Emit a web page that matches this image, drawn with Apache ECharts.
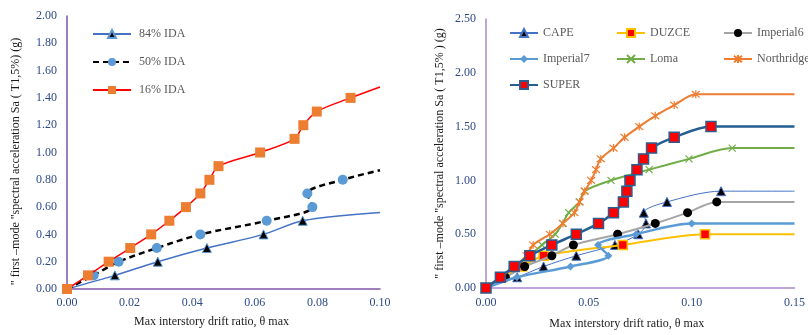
<!DOCTYPE html>
<html>
<head>
<meta charset="utf-8">
<script src="https://cdn.jsdelivr.net/npm/echarts@6/dist/echarts.min.js"></script>
<style>
  html, body { margin: 0; padding: 0; background: #ffffff; }
  #chart { width: 808px; height: 335px; }
</style>
</head>
<body>
<div id="chart"></div>
<script>
// ---- Left panel: IDA fractile curves (drift ratio vs Sa) ----
const idaNames = ['84% IDA', '50% IDA', '16% IDA'];
const ida84Drift = [0, 0.0153, 0.0290, 0.0447, 0.0628, 0.0753, 0.100];
const ida84Sa    = [0, 0.10, 0.20, 0.30, 0.40, 0.50, 0.56];
const ida50Drift = [0, 0.0085, 0.0165, 0.0287, 0.0426, 0.0638, 0.0784, 0.0768, 0.0881, 0.100];
const ida50Sa    = [0, 0.10, 0.20, 0.30, 0.40, 0.50, 0.60, 0.70, 0.80, 0.87];
const ida16Drift = [0, 0.0067, 0.0133, 0.0202, 0.0269, 0.0327, 0.0380, 0.0426, 0.0455, 0.0484,
                    0.0617, 0.0727, 0.0755, 0.0798, 0.0906, 0.100];
const ida16Sa    = [0, 0.10, 0.20, 0.30, 0.40, 0.50, 0.60, 0.70, 0.80, 0.90,
                    1.00, 1.10, 1.20, 1.30, 1.40, 1.48];

// ---- Right panel: individual record IDA curves ----
const recordNames = ['CAPE', 'DUZCE', 'Imperial6', 'Imperial7', 'Loma', 'Northridge', 'SUPER'];
const capeDrift = [0, 0.0152, 0.0280, 0.0439, 0.0627, 0.0740, 0.0778, 0.0767, 0.0880, 0.1143, 0.150];
const capeSa    = [0, 0.10, 0.20, 0.30, 0.40, 0.50, 0.60, 0.70, 0.80, 0.90, 0.90];
const duzceDrift = [0, 0.0070, 0.0175, 0.0280, 0.0665, 0.1065, 0.150];
const duzceSa    = [0, 0.10, 0.20, 0.30, 0.40, 0.50, 0.50];
const imp6Drift = [0, 0.0094, 0.0188, 0.0320, 0.0425, 0.0640, 0.0823, 0.0980, 0.1122, 0.150];
const imp6Sa    = [0, 0.10, 0.20, 0.30, 0.40, 0.50, 0.60, 0.70, 0.80, 0.80];
const imp7Drift = [0, 0.0150, 0.0411, 0.0595, 0.0545, 0.0730, 0.1000, 0.150];
const imp7Sa    = [0, 0.10, 0.20, 0.30, 0.40, 0.50, 0.60, 0.60];
const lomaDrift = [0, 0.0070, 0.0140, 0.0210, 0.0272, 0.0336, 0.0372, 0.0402, 0.0455, 0.0479,
                   0.0608, 0.0793, 0.0987, 0.1197, 0.150];
const lomaSa    = [0, 0.10, 0.20, 0.30, 0.40, 0.50, 0.60, 0.70, 0.80, 0.90,
                   1.00, 1.10, 1.20, 1.30, 1.30];
const northDrift = [0, 0.0070, 0.0140, 0.0197, 0.0229, 0.0310, 0.0374, 0.0430, 0.0455, 0.0480,
                    0.0511, 0.0535, 0.0558, 0.0620, 0.0674, 0.0745, 0.0823, 0.0915, 0.1020, 0.150];
const northSa    = [0, 0.10, 0.20, 0.30, 0.40, 0.50, 0.60, 0.70, 0.80, 0.90,
                    1.00, 1.10, 1.20, 1.30, 1.40, 1.50, 1.60, 1.70, 1.80, 1.80];
const superDrift = [0, 0.0070, 0.0137, 0.0213, 0.0320, 0.0439, 0.0547, 0.0620, 0.0668, 0.0685,
                    0.0700, 0.0734, 0.0766, 0.0805, 0.0915, 0.1094, 0.150];
const superSa    = [0, 0.10, 0.20, 0.30, 0.40, 0.50, 0.60, 0.70, 0.80, 0.90,
                    1.00, 1.10, 1.20, 1.30, 1.40, 1.50, 1.50];

// Axis ranges and tick steps
const leftX = { min: 0, max: 0.10, step: 0.02 };
const leftY = { min: 0, max: 2.00, step: 0.20 };
const rightX = { min: 0, max: 0.15, step: 0.05 };
const rightY = { min: 0, max: 2.50, step: 0.50 };

const xTitle = 'Max interstory drift ratio, \u03b8 max';
const yTitleLeft = '" first \u2013mode "spectral acceleration Sa ( T1,5%) (g)';
const yTitleRight = '" first \u2013mode "spectral acceleration Sa ( T1,5% ) (g)';

const FONT = 'Liberation Serif';
const TICK_COLOR = '#2E4A86';

// The trailing point of each curve only carries the line, no marker
function pairs(xs, ys) {
  return xs.map((x, i) => i === xs.length - 1
    ? { value: [x, ys[i]], symbol: 'none' }
    : [x, ys[i]]);
}

function axis(range, gridIndex, axisColor, margin, extra) {
  return Object.assign({
    type: 'value',
    gridIndex: gridIndex,
    min: range.min,
    max: range.max,
    interval: range.step,
    axisLine: { show: true, onZero: false, lineStyle: { color: axisColor, width: 1.5 } },
    axisTick: { show: false },
    splitLine: { show: false },
    axisLabel: {
      fontFamily: FONT, fontSize: 12, color: TICK_COLOR, margin: margin,
      formatter: v => v.toFixed(2)
    },
    nameTextStyle: { fontFamily: FONT, fontSize: 12, color: '#1a1a1a' }
  }, extra || {});
}

const crossPath = 'path://M0,0L10,10M10,0L0,10';
const starPath = 'path://M0,0L10,10M10,0L0,10M5,-1L5,11';

function line(name, xs, ys, grid, lineStyle, symbol, size, itemStyle, z) {
  return {
    name: name, type: 'line',
    xAxisIndex: grid, yAxisIndex: grid,
    data: pairs(xs, ys),
    smooth: 0.3,
    symbol: symbol, symbolSize: size,
    showAllSymbol: true,
    lineStyle: lineStyle,
    itemStyle: itemStyle,
    emphasis: { disabled: true },
    animation: false,
    z: z
  };
}

const LEFT_AXIS = '#7D55A8';
const RIGHT_AXIS = '#A887CE';

const option = {
  backgroundColor: '#ffffff',
  animation: false,
  grid: [
    { left: 67, top: 16, width: 313, height: 273 },
    { left: 486, top: 19, width: 310, height: 273 }
  ],
  xAxis: [
    axis(leftX, 0, LEFT_AXIS, 8, {
      name: xTitle, nameLocation: 'middle', nameGap: 27,
      nameTextStyle: { fontFamily: FONT, fontSize: 12, color: '#1a1a1a', padding: [0, 24, 0, 0] }
    }),
    axis(rightX, 1, RIGHT_AXIS, 9, {
      name: xTitle, nameLocation: 'middle', nameGap: 30,
      nameTextStyle: { fontFamily: FONT, fontSize: 12, color: '#1a1a1a', padding: [0, 27, 0, 0] }
    })
  ],
  yAxis: [
    axis(leftY, 0, LEFT_AXIS, 10, {
      name: yTitleLeft, nameLocation: 'middle', nameGap: 45, nameRotate: 90,
      nameTextStyle: { fontFamily: FONT, fontSize: 12, color: '#1a1a1a', padding: [0, 18, 0, 0] }
    }),
    axis(rightY, 1, RIGHT_AXIS, 10, {
      name: yTitleRight, nameLocation: 'middle', nameGap: 40, nameRotate: 90,
      nameTextStyle: { fontFamily: FONT, fontSize: 12, color: '#1a1a1a' }
    })
  ],
  legend: [
    {
      data: idaNames,
      orient: 'vertical',
      left: 92, top: 27, padding: 0,
      itemWidth: 38, itemHeight: 10, itemGap: 14,
      textStyle: { fontFamily: FONT, fontSize: 12, color: '#595959', lineHeight: 14, padding: [0, 0, 0, 3] },
      selectedMode: false
    },
    {
      data: recordNames,
      orient: 'horizontal',
      left: 509, top: 25, width: 330, padding: 0,
      itemWidth: 28, itemHeight: 10, itemGap: 10,
      textStyle: { fontFamily: FONT, fontSize: 12, color: '#595959', width: 63, lineHeight: 16 },
      selectedMode: false
    }
  ],
  series: [
    line('84% IDA', ida84Drift, ida84Sa, 0,
      { color: '#4472C4', width: 1.5 }, 'triangle', 9,
      { color: '#000000', borderColor: '#5B9BD5', borderWidth: 1 }, 2),
    line('50% IDA', ida50Drift, ida50Sa, 0,
      { color: '#000000', width: 2.5, type: [6, 4] }, 'circle', 10,
      { color: '#5B9BD5' }, 3),
    line('16% IDA', ida16Drift, ida16Sa, 0,
      { color: '#FF0000', width: 1.5 }, 'rect', 10,
      { color: '#ED7D31' }, 4),

    line('CAPE', capeDrift, capeSa, 1,
      { color: '#4472C4', width: 1 }, 'triangle', 9,
      { color: '#000000', borderColor: '#4472C4', borderWidth: 1 }, 2),
    line('DUZCE', duzceDrift, duzceSa, 1,
      { color: '#FFC000', width: 2 }, 'rect', 9,
      { color: '#FF0000', borderColor: '#FFC000', borderWidth: 1.5 }, 3),
    line('Imperial6', imp6Drift, imp6Sa, 1,
      { color: '#A5A5A5', width: 2 }, 'circle', 9,
      { color: '#000000' }, 4),
    line('Imperial7', imp7Drift, imp7Sa, 1,
      { color: '#5B9BD5', width: 2.5 }, 'diamond', 8,
      { color: '#5B9BD5' }, 5),
    line('Loma', lomaDrift, lomaSa, 1,
      { color: '#70AD47', width: 2 }, crossPath, 7,
      { color: 'none', borderColor: '#70AD47', borderWidth: 1.2 }, 6),
    line('Northridge', northDrift, northSa, 1,
      { color: '#ED7D31', width: 2 }, starPath, 8,
      { color: 'none', borderColor: '#ED7D31', borderWidth: 1.2 }, 7),
    line('SUPER', superDrift, superSa, 1,
      { color: '#255E91', width: 2.5 }, 'rect', 10,
      { color: '#FF0000', borderColor: '#2E5C8E', borderWidth: 1.5 }, 8)
  ]
};

const chart = echarts.init(document.getElementById('chart'), null, { renderer: 'canvas' });
chart.setOption(option);
</script>
</body>
</html>
